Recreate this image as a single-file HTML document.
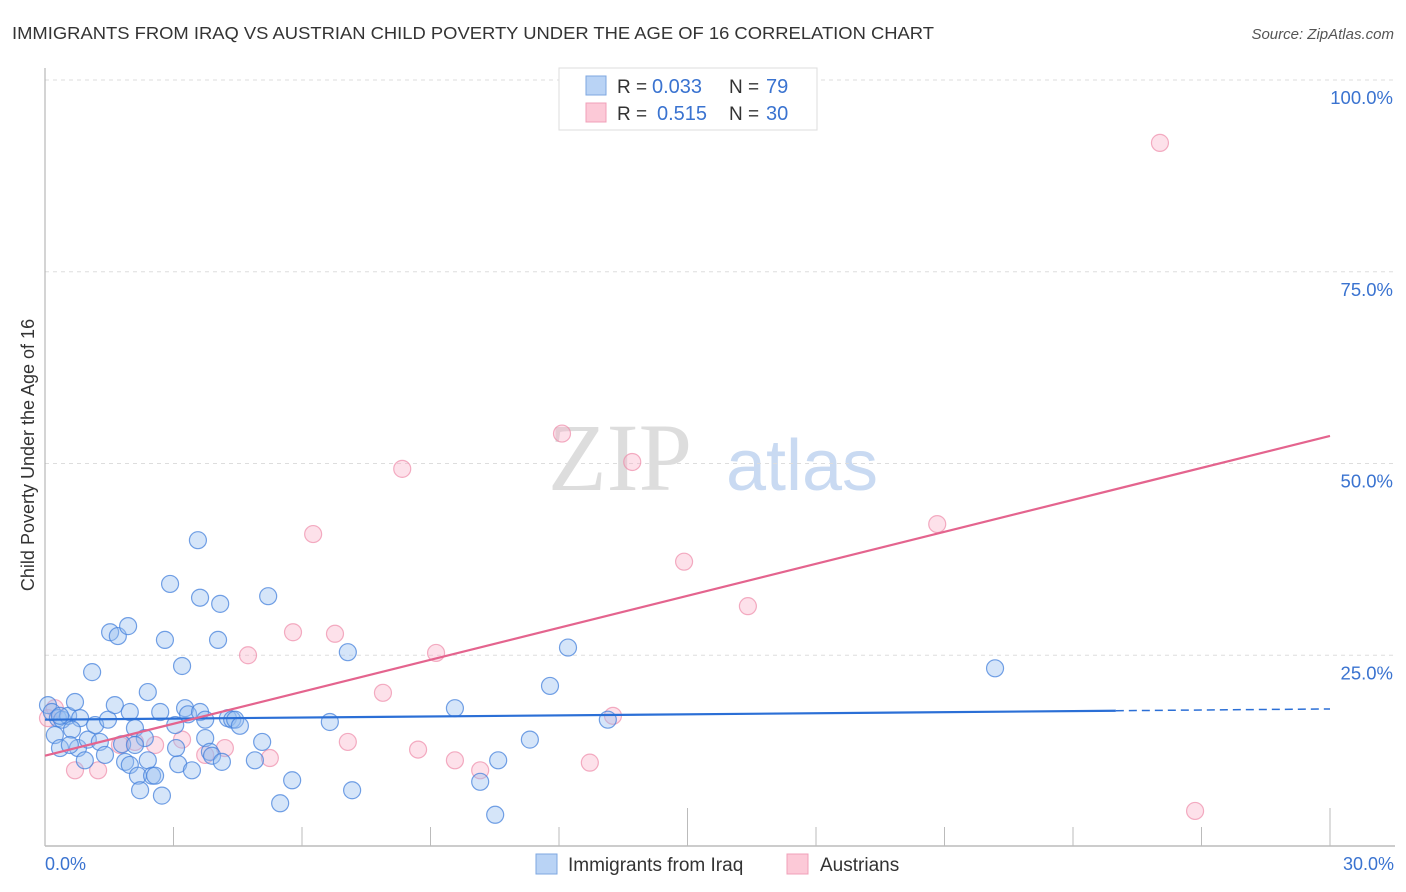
<!DOCTYPE html>
<html><head><meta charset="utf-8"><style>
body{margin:0;background:#fff;font-family:"Liberation Sans",sans-serif;}
svg{display:block}
</style></head><body>
<svg id="chart" width="1406" height="892">
<text x="12" y="39" font-size="17.5" fill="#333" textLength="922" lengthAdjust="spacingAndGlyphs">IMMIGRANTS FROM IRAQ VS AUSTRIAN CHILD POVERTY UNDER THE AGE OF 16 CORRELATION CHART</text>
<text x="1394" y="39" font-size="15" fill="#555" font-style="italic" text-anchor="end">Source: ZipAtlas.com</text>
<text x="620" y="490" font-size="96" fill="#ddd" font-family="Liberation Serif" text-anchor="middle">ZIP</text>
<text x="802" y="490" font-size="72" fill="#c9daf2" text-anchor="middle">atlas</text>
<g id="grid"></g>
<line x1="45" y1="68" x2="45" y2="846" stroke="#aaa"/>
<line x1="45" y1="846" x2="1395" y2="846" stroke="#bbb" stroke-width="1.5"/>
<text transform="translate(34,455) rotate(-90)" font-size="18" fill="#333" text-anchor="middle">Child Poverty Under the Age of 16</text>
<text x="45" y="870" font-size="18" fill="#3a73d0">0.0%</text>
<text x="1394" y="870" font-size="18" fill="#3a73d0" text-anchor="end">30.0%</text>
<g id="marks"></g>
<g id="trends"></g>
<g>
<rect x="559" y="68" width="258" height="62" fill="#fff" stroke="#ddd"/>
<rect x="586" y="76" width="20" height="19" fill="#b9d3f5" stroke="#7ea7e0"/>
<rect x="586" y="103" width="20" height="19" fill="#fcc9d7" stroke="#f0a0b8"/>
<text x="617" y="93" font-size="19" fill="#333">R =</text>
<text x="652" y="93" font-size="20" fill="#3a73d0">0.033</text>
<text x="729" y="93" font-size="19" fill="#333">N =</text>
<text x="766" y="93" font-size="20" fill="#3a73d0">79</text>
<text x="617" y="120" font-size="19" fill="#333">R =</text>
<text x="657" y="120" font-size="20" fill="#3a73d0">0.515</text>
<text x="729" y="120" font-size="19" fill="#333">N =</text>
<text x="766" y="120" font-size="20" fill="#3a73d0">30</text>
</g>
<g>
<rect x="536" y="854" width="21" height="20" fill="#b9d3f5" stroke="#7ea7e0"/>
<text x="568" y="871" font-size="19" fill="#333">Immigrants from Iraq</text>
<rect x="787" y="854" width="21" height="20" fill="#fcc9d7" stroke="#f0a0b8"/>
<text x="820" y="871" font-size="19" fill="#333">Austrians</text>
</g>
</svg>
<script>
const yTicks=[25,50,75,100];
const yTickLabels=["25.0%","50.0%","75.0%","100.0%"];
const blueX=[0.07,0.16,0.30,0.40,0.54,0.23,0.35,0.70,0.82,0.63,0.77,1.00,1.10,1.17,1.28,1.40,1.47,1.52,1.63,1.70,1.80,1.94,1.98,2.10,1.87,1.98,2.17,2.22,2.33,2.40,2.50,2.57,2.40,2.69,2.73,2.80,2.92,3.04,3.11,3.20,3.27,3.34,3.43,3.57,3.62,3.62,3.74,3.85,3.90,4.04,4.09,4.13,4.27,4.37,4.44,4.55,4.90,5.07,5.21,5.49,5.77,6.65,7.07,7.17,9.57,10.16,10.51,10.58,11.32,11.79,12.21,13.14,22.18,0.35,0.58,0.93,2.10,3.06,3.74];
const blueY=[18.5,17.6,16.8,16.6,17.1,14.6,12.9,18.9,16.8,15.3,12.9,14.0,22.8,15.9,13.7,12.0,16.6,28.0,18.5,27.5,13.4,28.8,17.6,15.5,11.1,10.7,9.3,7.4,14.2,11.3,9.3,9.3,20.2,17.6,6.7,27.0,34.3,15.9,10.8,23.6,18.1,17.3,10.0,40.0,32.5,17.6,14.2,12.4,11.9,27.0,31.7,11.1,16.8,16.6,16.6,15.8,11.3,13.7,32.7,5.7,8.7,16.3,25.4,7.4,18.1,8.5,4.2,11.3,14.0,21.0,26.0,16.6,23.3,17.1,13.3,11.3,13.3,12.9,16.6];
const pinkX=[0.07,0.23,0.70,1.24,1.75,2.10,2.57,3.20,3.74,4.20,4.74,5.25,5.79,6.26,6.77,7.07,7.89,8.34,8.71,9.13,9.57,10.16,12.07,12.72,13.26,13.71,14.92,16.41,20.83,26.03,26.85];
const pinkY=[16.8,18.1,10.0,10.0,13.3,13.7,13.3,14.0,12.0,12.9,25.0,11.6,28.0,40.8,27.8,13.7,20.1,49.3,12.7,25.3,11.3,10.0,53.9,11.0,17.1,50.2,37.2,31.4,42.1,91.8,4.7];
const blueTrend=[16.6,18.0];
const pinkTrend=[11.9,53.6];
const xTicks=[3,6,9,12,15,18,21,24,27,30];
const NS="http://www.w3.org/2000/svg";
const X=v=>45+v*(1285/30);
const Y=v=>847-v*7.67;
function mk(t,a){const e=document.createElementNS(NS,t);for(const k in a)e.setAttribute(k,a[k]);return e;}
const grid=document.getElementById('grid');
yTicks.forEach((t,i)=>{
 const l=mk('line',{x1:45,x2:1395,y1:Y(t),y2:Y(t),stroke:'#ddd','stroke-dasharray':'4,4'});
 
 
 grid.appendChild(l);
 const tx=mk('text',{x:1393,y:Y(t)+24,'font-size':18.5,fill:'#3a73d0','text-anchor':'end'});
 tx.textContent=yTickLabels[i];
 
 
 grid.appendChild(tx);
});
xTicks.forEach((t,i)=>{
 const l=mk('line',{x1:X(t),x2:X(t),y1:(t%15===0)?808:827,y2:846,stroke:'#bbb'});
 
 
 grid.appendChild(l);
});
const marks=document.getElementById('marks');
pinkX.forEach((x,i)=>{
 const c=mk('circle',{cx:X(x),cy:Y(pinkY[i]),r:8.5,fill:'rgba(248,170,195,0.35)',stroke:'rgba(238,140,170,0.7)','stroke-width':1.2});
 
 
 marks.appendChild(c);
});
blueX.forEach((x,i)=>{
 const c=mk('circle',{cx:X(x),cy:Y(blueY[i]),r:8.5,fill:'rgba(150,190,240,0.4)',stroke:'rgba(70,130,220,0.75)','stroke-width':1.2});
 
 
 marks.appendChild(c);
});
const tr=document.getElementById('trends');
const bAt=v=>blueTrend[0]+(blueTrend[1]-blueTrend[0])*v/30;
let l1=mk('line',{x1:X(0),y1:Y(bAt(0)),x2:X(25),y2:Y(bAt(25)),stroke:'#2b6fd6','stroke-width':2.2});


tr.appendChild(l1);
let l2=mk('line',{x1:X(25),y1:Y(bAt(25)),x2:X(30),y2:Y(bAt(30)),stroke:'#2b6fd6','stroke-width':1.5,'stroke-dasharray':'8,5'});


tr.appendChild(l2);
let l3=mk('line',{x1:X(0),y1:Y(pinkTrend[0]),x2:X(30),y2:Y(pinkTrend[1]),stroke:'#e4648e','stroke-width':2.2});


tr.appendChild(l3);
</script>
</body></html>
